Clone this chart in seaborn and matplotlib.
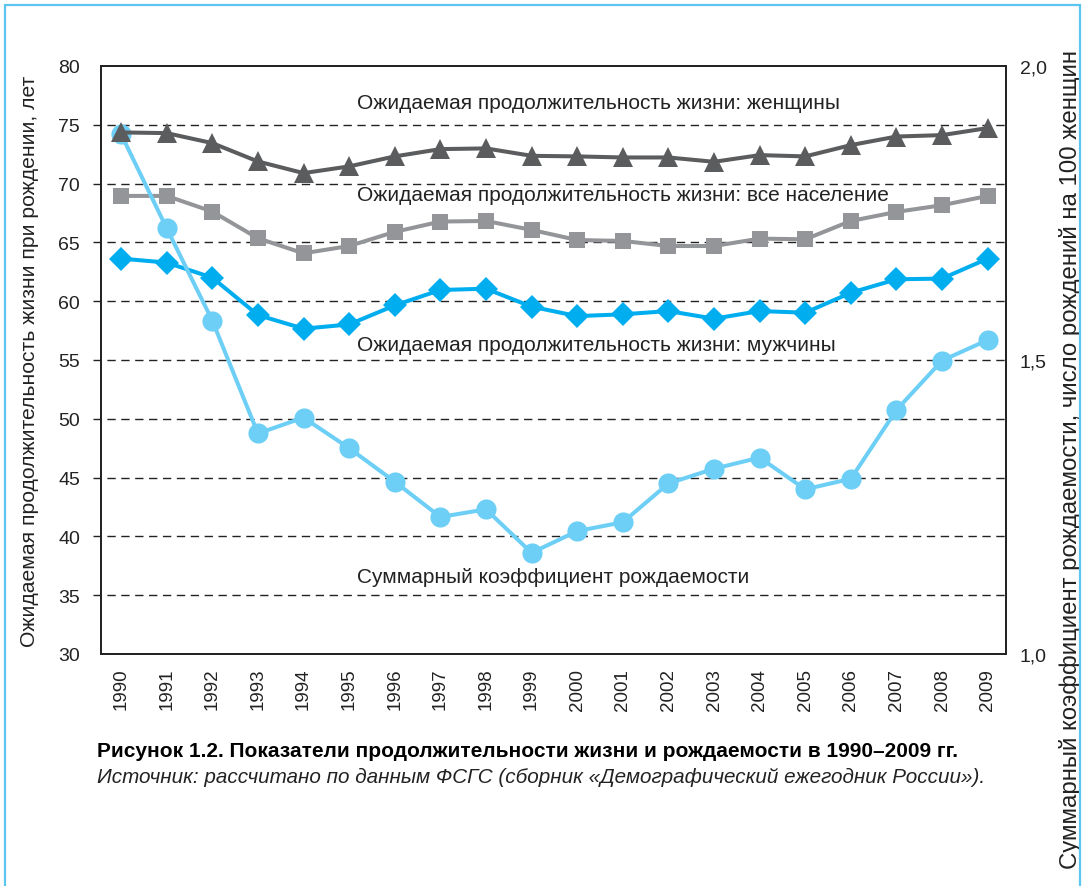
import numpy as np
import pandas as pd
import seaborn as sns
import matplotlib.pyplot as plt
from matplotlib.patches import Rectangle

years = list(range(1990, 2010))

# life expectancy at birth, years (left axis)
le_women = [74.35, 74.29, 73.44, 71.88, 70.89, 71.46, 72.31, 72.93, 72.99, 72.36,
            72.31, 72.22, 72.22, 71.85, 72.42, 72.31, 73.27, 74.00, 74.12, 74.72]
le_all = [68.95, 68.95, 67.62, 65.35, 64.07, 64.69, 65.89, 66.77, 66.82, 66.06,
          65.20, 65.12, 64.69, 64.69, 65.32, 65.26, 66.82, 67.59, 68.16, 68.95]
le_men = [63.62, 63.28, 62.00, 58.82, 57.66, 58.02, 59.64, 60.95, 61.06, 59.53,
          58.73, 58.88, 59.16, 58.51, 59.16, 59.02, 60.72, 61.86, 61.92, 63.62]
# total fertility rate (right axis)
tfr = [1.884, 1.724, 1.567, 1.375, 1.402, 1.350, 1.293, 1.233, 1.246, 1.172,
       1.209, 1.224, 1.290, 1.315, 1.334, 1.280, 1.298, 1.415, 1.499, 1.534]

left_ticks = [30, 35, 40, 45, 50, 55, 60, 65, 70, 75, 80]
right_ticks = [1.0, 1.5, 2.0]
right_labels = ['1,0', '1,5', '2,0']

lbl_women = 'Ожидаемая продолжительность жизни: женщины'
lbl_all = 'Ожидаемая продолжительность жизни: все население'
lbl_men = 'Ожидаемая продолжительность жизни: мужчины'
lbl_tfr = 'Суммарный коэффициент рождаемости'
caption = 'Рисунок 1.2. Показатели продолжительности жизни и рождаемости в 1990–2009 гг.'
source = 'Источник: рассчитано по данным ФСГС (сборник «Демографический ежегодник России»).'

c_women = '#5b5c5e'
c_all = '#939598'
c_men = '#00aeef'
c_tfr = '#6dcff6'

sns.set_style('white')
plt.rcParams['font.family'] = ['Liberation Sans', 'DejaVu Sans']

df = pd.DataFrame({'year': years, 'women': le_women, 'all': le_all,
                   'men': le_men, 'tfr': tfr})

fig = plt.figure(figsize=(10.86, 8.87), dpi=100)
ax = fig.add_axes([0.093, 0.2616, 0.8333, 0.6629])
ax2 = ax.twinx()
# extra layer on the left scale so the women's line sits on top
ax3 = fig.add_axes(ax.get_position(), sharex=ax, sharey=ax)
ax3.axis('off')

lw = 2.9
sns.lineplot(data=df, x='year', y='all', ax=ax, color=c_all, lw=lw,
             marker='s', markersize=12, markeredgewidth=0)
sns.lineplot(data=df, x='year', y='men', ax=ax, color=c_men, lw=lw,
             marker='D', markersize=12, markeredgewidth=0)
sns.lineplot(data=df, x='year', y='tfr', ax=ax2, color=c_tfr, lw=lw,
             marker='o', markersize=14.5, markeredgewidth=0)
sns.lineplot(data=df, x='year', y='women', ax=ax3, color=c_women, lw=lw,
             marker='^', markersize=15, markeredgewidth=0)

ax.set_xlim(1989.56, 2009.4)
ax.set_ylim(30, 80)
ax2.set_ylim(1.0, 2.0)

# dashed reference lines, slightly poking out left of the frame
for t in left_ticks[1:-1]:
    ax.axhline(t, xmin=-0.009, xmax=1, color='#222222', lw=1.0,
               ls=(0, (6, 4)), clip_on=False, zorder=0.5)

ax.set_yticks(left_ticks)
ax.set_xticks(years)
ax.tick_params(axis='y', length=0, pad=15, labelsize=14, colors='#222222')
ax.tick_params(axis='x', length=0, pad=10, labelsize=13.5, labelrotation=90,
               colors='#222222')
ax2.set_yticks(right_ticks)
ax2.set_yticklabels(right_labels)
ax2.tick_params(axis='y', length=0, pad=10, labelsize=14, colors='#222222')

ax.set_xlabel('')
ax.set_ylabel('Ожидаемая продолжительность жизни при рождении, лет',
              fontsize=15.2, color='#222222', labelpad=14)
ax2.set_ylabel('Суммарный коэффициент рождаемости, число рождений на 100 женщин',
               fontsize=17.3, color='#222222')
ax2.yaxis.set_label_coords(1.059, 0.333)

for a in (ax, ax2):
    for s in a.spines.values():
        s.set_color('#222222')
        s.set_linewidth(1.3)

txt = dict(fontsize=15, color='#222222', ha='left', va='center')
ax.text(1995.18, 76.93, lbl_women, **txt)
ax.text(1995.18, 69.1, lbl_all, **txt)
ax.text(1995.18, 56.33, lbl_men, **txt)
ax.text(1995.18, 36.62, lbl_tfr, **txt)

fig.text(97 / 1086, 1 - 752 / 887, caption, fontsize=15, fontweight='bold',
         va='center', ha='left', color='black')
fig.text(97 / 1086, 1 - 777 / 887, source, fontsize=14.9, style='italic',
         va='center', ha='left', color='#222222')

fig.patches.append(Rectangle((5 / 1086, -0.05), 1075 / 1086, 1.05 - 5.5 / 887,
                             transform=fig.transFigure, fill=False,
                             edgecolor='#5cc6f2', lw=1.6))

fig.savefig('out.png', dpi=100)
